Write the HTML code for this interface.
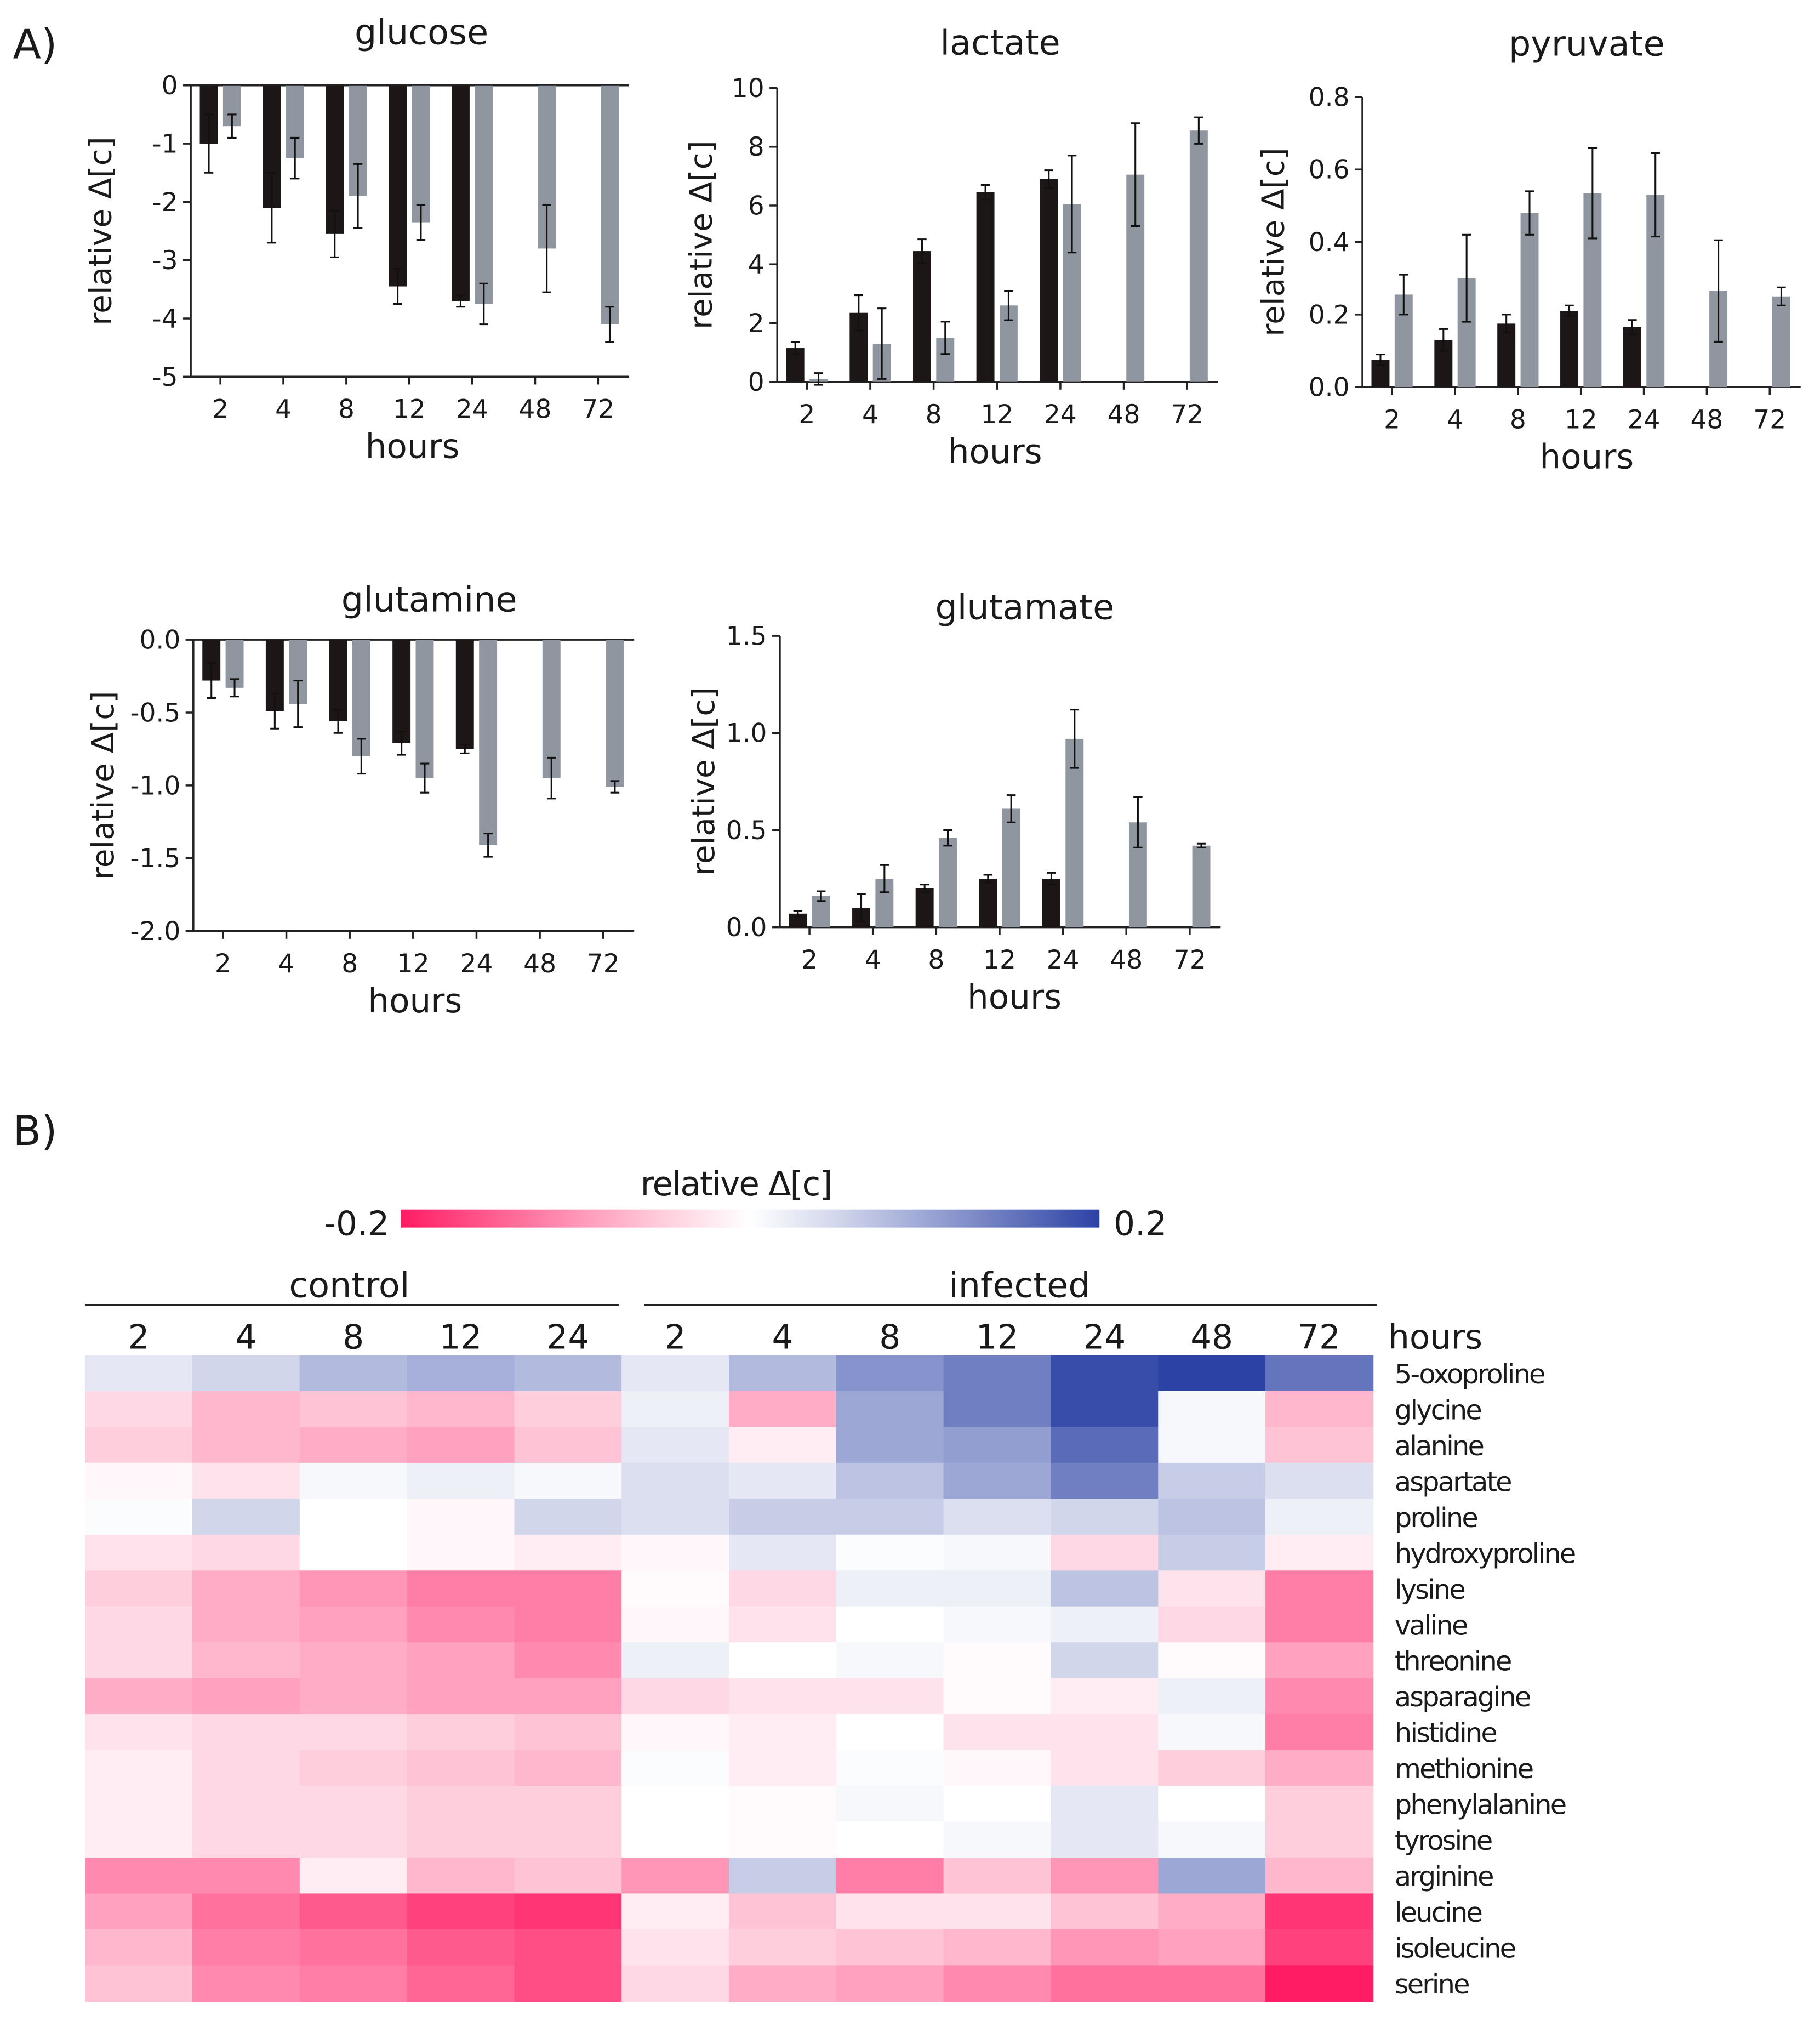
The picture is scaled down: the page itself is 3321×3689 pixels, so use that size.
<!DOCTYPE html>
<html><head><meta charset="utf-8">
<style>
html,body{margin:0;padding:0;background:#fff;}
svg{display:block;}
text{font-family:"DejaVu Sans","Liberation Sans",sans-serif;fill:#1a1a1a;}
</style></head>
<body>
<svg id="fig" width="3321" height="3689" viewBox="0 0 1412 1568" xmlns="http://www.w3.org/2000/svg">
<text x="10" y="45" font-size="32">A)</text>
<text x="10" y="888" font-size="32">B)</text>
<g id="charts"></g>
<g id="heat"></g>
</svg>
<script>
const hours = ["2","4","8","12","24","48","72"];
const glucoseBlack = [-1.0,-2.1,-2.55,-3.45,-3.7];
const glucoseBlackErr = [0.5,0.6,0.4,0.3,0.1];
const glucoseGray = [-0.7,-1.25,-1.9,-2.35,-3.75,-2.8,-4.1];
const glucoseGrayErr = [0.2,0.35,0.55,0.3,0.35,0.75,0.3];
const lactateBlack = [1.15,2.35,4.45,6.45,6.9];
const lactateBlackErr = [0.2,0.6,0.4,0.25,0.3];
const lactateGray = [0.1,1.3,1.5,2.6,6.05,7.05,8.55];
const lactateGrayErr = [0.2,1.2,0.55,0.5,1.65,1.75,0.45];
const pyruvateBlack = [0.075,0.13,0.175,0.21,0.165];
const pyruvateBlackErr = [0.015,0.03,0.025,0.015,0.02];
const pyruvateGray = [0.255,0.3,0.48,0.535,0.53,0.265,0.25];
const pyruvateGrayErr = [0.055,0.12,0.06,0.125,0.115,0.14,0.025];
const glutamineBlack = [-0.28,-0.49,-0.56,-0.71,-0.75];
const glutamineBlackErr = [0.12,0.12,0.08,0.08,0.03];
const glutamineGray = [-0.33,-0.44,-0.8,-0.95,-1.41,-0.95,-1.01];
const glutamineGrayErr = [0.06,0.16,0.12,0.1,0.08,0.14,0.04];
const glutamateBlack = [0.07,0.1,0.2,0.25,0.25];
const glutamateBlackErr = [0.015,0.07,0.02,0.02,0.03];
const glutamateGray = [0.16,0.25,0.46,0.61,0.97,0.54,0.42];
const glutamateGrayErr = [0.025,0.07,0.04,0.07,0.15,0.13,0.01];
const glucoseTicks = [0,-1,-2,-3,-4,-5];
const lactateTicks = [0,2,4,6,8,10];
const pyruvateTicks = [0,0.2,0.4,0.6,0.8];
const glutamineTicks = [0,-0.5,-1.0,-1.5,-2.0];
const glutamateTicks = [0,0.5,1.0,1.5];

const heatCols = ["2","4","8","12","24","2","4","8","12","24","48","72"];
const heatRows = ["5-oxoproline","glycine","alanine","aspartate","proline","hydroxyproline","lysine","valine","threonine","asparagine","histidine","methionine","phenylalanine","tyrosine","arginine","leucine","isoleucine","serine"];
const heatValues = [
[.03,.05,.08,.09,.08,.03,.08,.12,.14,.19,.22,.15],
[-.04,-.07,-.06,-.07,-.05,.02,-.08,.1,.14,.19,.01,-.07],
[-.05,-.07,-.08,-.09,-.06,.03,-.02,.1,.11,.16,.01,-.06],
[-.01,-.03,.01,.02,.01,.04,.03,.07,.1,.14,.06,.04],
[.005,.05,0,-.01,.05,.04,.06,.06,.04,.05,.07,.02],
[-.03,-.04,0,-.01,-.02,-.01,.03,.005,.01,-.04,.06,-.02],
[-.05,-.08,-.1,-.12,-.12,-.005,-.04,.02,.02,.07,-.03,-.12],
[-.04,-.08,-.09,-.11,-.12,-.01,-.03,0,.01,.02,-.04,-.12],
[-.04,-.07,-.08,-.09,-.11,.02,0,.01,-.005,.05,-.005,-.09],
[-.08,-.09,-.08,-.09,-.09,-.04,-.03,-.03,-.005,-.02,.02,-.11],
[-.03,-.04,-.04,-.05,-.06,-.01,-.02,0,-.03,-.03,.01,-.12],
[-.02,-.04,-.05,-.06,-.07,.005,-.02,.005,-.01,-.03,-.05,-.08],
[-.02,-.04,-.04,-.05,-.05,0,-.005,.01,0,.03,0,-.05],
[-.02,-.04,-.04,-.05,-.05,0,-.005,0,.01,.03,.01,-.05],
[-.11,-.11,-.02,-.07,-.06,-.1,.06,-.12,-.06,-.1,.1,-.07],
[-.09,-.13,-.15,-.17,-.18,-.02,-.06,-.03,-.03,-.06,-.08,-.18],
[-.07,-.12,-.13,-.15,-.16,-.03,-.05,-.06,-.07,-.1,-.09,-.17],
[-.06,-.11,-.12,-.14,-.16,-.04,-.08,-.09,-.11,-.13,-.13,-.2]
];

const NS="http://www.w3.org/2000/svg";
function mk(parent,tag,attrs,txt){const e=document.createElementNS(NS,tag);for(const k in attrs)e.setAttribute(k,attrs[k]);if(txt!==undefined)e.textContent=txt;parent.appendChild(e);return e;}

function chart(c){
  const g=mk(document.getElementById('charts'),'g',{});
  
  
  const y=v=>c.top+(c.max-v)/(c.max-c.min)*(c.bot-c.top);
  const x=i=>c.x0+23+i*((c.x1-c.x0-47)/6);
  const t=mk(g,'text',{x:c.tx,y:c.ty,'font-size':27,'text-anchor':'middle'},c.title);
  
  
  mk(g,'line',{x1:c.x0,y1:c.top,x2:c.x0,y2:c.bot,stroke:'#222','stroke-width':1.5});
  mk(g,'line',{x1:c.x0,y1:c.bot,x2:c.x1,y2:c.bot,stroke:'#222','stroke-width':1.5});
  if(c.min<0) mk(g,'line',{x1:c.x0,y1:c.top,x2:c.x1,y2:c.top,stroke:'#222','stroke-width':1.5});
  c.ticks.forEach(v=>{
    mk(g,'line',{x1:c.x0-6,y1:y(v),x2:c.x0,y2:y(v),stroke:'#222','stroke-width':1.5});
    const tl=mk(g,'text',{x:c.x0-10,y:y(v)+7,'font-size':20,'text-anchor':'end'},c.fmt(v));
    
    
  });
  hours.forEach((h,i)=>{
    mk(g,'line',{x1:x(i),y1:c.bot,x2:x(i),y2:c.bot+6,stroke:'#222','stroke-width':1.5});
    const tl=mk(g,'text',{x:x(i),y:c.bot+32,'font-size':20,'text-anchor':'middle'},h);
    
    
  });
  const yt=mk(g,'text',{x:0,y:0,'font-size':24,'text-anchor':'middle',transform:`translate(${c.yx},${(c.top+c.bot)/2}) rotate(-90)`},'relative Δ[c]');
  
  
  const xt=mk(g,'text',{x:c.hx,y:c.bot+63,'font-size':26,'text-anchor':'middle'},'hours');
  
  
  const zero=y(0);
  function bars(vals,errs,off,col,nm){
    vals.forEach((v,i)=>{
      const cx=x(i)+off, yy=y(v);
      const r=mk(g,'rect',{x:cx-7,y:Math.min(yy,zero),width:14,height:Math.abs(yy-zero),fill:col});
      
      
      const e=errs[i], y1=y(v-e), y2=y(v+e);
      mk(g,'line',{x1:cx,y1:y1,x2:cx,y2:y2,stroke:'#111','stroke-width':1.3});
      mk(g,'line',{x1:cx-3.5,y1:y1,x2:cx+3.5,y2:y1,stroke:'#111','stroke-width':1.3});
      mk(g,'line',{x1:cx-3.5,y1:y2,x2:cx+3.5,y2:y2,stroke:'#111','stroke-width':1.3});
    });
  }
  bars(c.black,c.blackErr,-9,'#1c1616','control');
  bars(c.gray,c.grayErr,9,'#8f969f','infected');
}
const f0=v=>String(v), f1=v=>v.toFixed(1);
chart({name:'glucose',title:'glucose',tx:327,ty:34,x0:148,x1:488,top:66,bot:292,min:-5,max:0,ticks:glucoseTicks,fmt:f0,yx:86,hx:320,black:glucoseBlack,blackErr:glucoseBlackErr,gray:glucoseGray,grayErr:glucoseGrayErr});
chart({name:'lactate',title:'lactate',tx:776,ty:42,x0:603,x1:945,top:68,bot:296,min:0,max:10,ticks:lactateTicks,fmt:f0,yx:552,hx:772,black:lactateBlack,blackErr:lactateBlackErr,gray:lactateGray,grayErr:lactateGrayErr});
chart({name:'pyruvate',title:'pyruvate',tx:1231,ty:43,x0:1057,x1:1397,top:75,bot:300,min:0,max:0.8,ticks:pyruvateTicks,fmt:f1,yx:996,hx:1231,black:pyruvateBlack,blackErr:pyruvateBlackErr,gray:pyruvateGray,grayErr:pyruvateGrayErr});
chart({name:'glutamine',title:'glutamine',tx:333,ty:474,x0:150,x1:492,top:496,bot:722,min:-2,max:0,ticks:glutamineTicks,fmt:f1,yx:88,hx:322,black:glutamineBlack,blackErr:glutamineBlackErr,gray:glutamineGray,grayErr:glutamineGrayErr});
chart({name:'glutamate',title:'glutamate',tx:795,ty:480,x0:605,x1:947,top:493,bot:719,min:0,max:1.5,ticks:glutamateTicks,fmt:f1,yx:554,hx:787,black:glutamateBlack,blackErr:glutamateBlackErr,gray:glutamateGray,grayErr:glutamateGrayErr});

// heatmap
function color(v){
  const t=Math.max(-1,Math.min(1,v/0.2));
  const end=t<0?[255,28,100]:[44,66,165];
  const a=Math.pow(Math.abs(t),1.1);
  const c=[0,1,2].map(k=>Math.round(255+(end[k]-255)*a));
  return `rgb(${c[0]},${c[1]},${c[2]})`;
}
const H=document.getElementById('heat');
const hx0=66,hx1=1065,hy0=1051,hy1=1552;
const cw=(hx1-hx0)/heatCols.length, rh=(hy1-hy0)/heatRows.length;
heatValues.forEach((row,r)=>row.forEach((v,c)=>{
  const rc=mk(H,'rect',{x:hx0+c*cw,y:hy0+r*rh,width:cw+0.6,height:rh+0.6,fill:color(v)});
  
  
}));
heatRows.forEach((n,r)=>{
  const t=mk(H,'text',{x:1082,y:hy0+r*rh+rh/2+8,'font-size':21,'letter-spacing':-1.2},n);
  
  
});
heatCols.forEach((n,c)=>{
  const t=mk(H,'text',{x:hx0+c*cw+cw/2,y:1046,'font-size':26,'text-anchor':'middle'},n);
  
  
});
const hl=mk(H,'text',{x:1077,y:1046,'font-size':26},'hours');


mk(H,'line',{x1:66,y1:1012,x2:480,y2:1012,stroke:'#222','stroke-width':1.5});
mk(H,'line',{x1:500,y1:1012,x2:1068,y2:1012,stroke:'#222','stroke-width':1.5});
const gc=mk(H,'text',{x:271,y:1006,'font-size':27,'text-anchor':'middle'},'control');


const gi=mk(H,'text',{x:791,y:1006,'font-size':27,'text-anchor':'middle'},'infected');


// colorbar
const defs=mk(H,'defs',{});
const lg=mk(defs,'linearGradient',{id:'cb',x1:0,x2:1,y1:0,y2:0});
[-0.2,-0.15,-0.1,-0.05,0,0.05,0.1,0.15,0.2].forEach((v,i)=>mk(lg,'stop',{offset:(i*12.5)+'%','stop-color':color(v)}));
const cb=mk(H,'rect',{x:311,y:938,width:542,height:14,fill:'url(#cb)'});


const ct=mk(H,'text',{x:571,y:927,'font-size':26,'text-anchor':'middle','letter-spacing':-0.8},'relative Δ[c]');


const cl=mk(H,'text',{x:302,y:958,'font-size':26,'text-anchor':'end'},'-0.2');


const cr=mk(H,'text',{x:864,y:958,'font-size':26},'0.2');


</script>
</body></html>
